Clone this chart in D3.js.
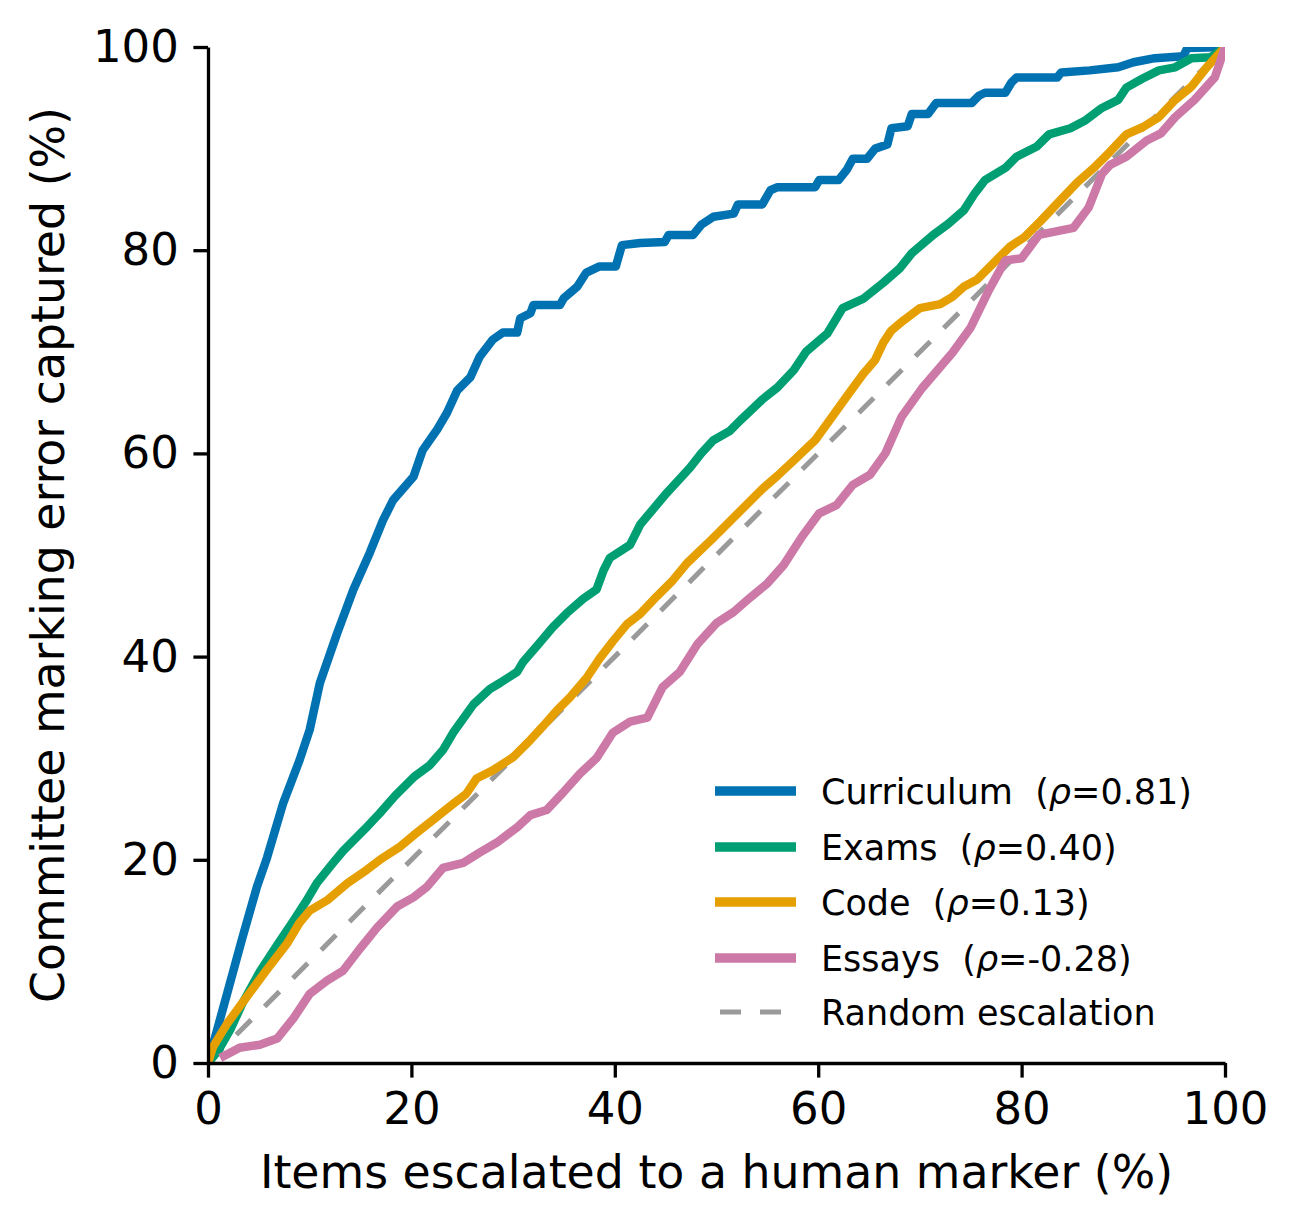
<!DOCTYPE html>
<html>
<head>
<meta charset="utf-8">
<script src="https://cdn.jsdelivr.net/npm/d3@7"></script>
<style>
  body { margin: 0; background: #fff; }
  text { font-family: "DejaVu Sans", sans-serif; }
</style>
</head>
<body>
<div class="vis-curves"></div>
<script>
// values ([% escalated, % error captured])
const curriculum = [[0,0],[1.9,6.9],[3.4,12.4],[4.8,17.3],[5.8,20.2],[7.4,25.6],[9,29.8],[10,32.8],[11,37.4],[12.7,42.3],[14.3,46.6],[15.9,50.2],[17.2,53.4],[18.2,55.4],[20.2,57.7],[21.1,60.3],[22.5,62.3],[23.5,64],[24.5,66.2],[25.8,67.5],[26.7,69.5],[28,71.2],[29,71.9],[30.4,71.9],[30.7,73.3],[31.7,73.8],[32,74.6],[34.6,74.6],[35,75.3],[36.3,76.4],[37.2,77.8],[38.5,78.4],[40.1,78.4],[40.7,80.5],[42.5,80.7],[44.9,80.8],[45.3,81.5],[47.7,81.5],[48.5,82.5],[49.7,83.3],[51.7,83.6],[52.1,84.5],[54.5,84.5],[55.3,85.9],[56,86.2],[59.7,86.2],[60.1,86.9],[62,86.9],[62.8,87.9],[63.4,89],[64.8,89],[65.6,90],[66.8,90.4],[67.2,92],[68.8,92.2],[69.2,93.4],[70.8,93.4],[71.6,94.5],[75.1,94.5],[75.8,95.2],[76.4,95.5],[78.4,95.5],[79,96.5],[79.5,97],[83.5,97],[83.9,97.5],[86.7,97.7],[89.5,98],[91,98.5],[93.1,98.9],[95.9,99.1],[96.3,99.9],[100,100]];
const exams = [[0,0],[1,1.2],[2.2,3.3],[3.4,5.9],[5.1,9],[6.8,11.6],[8.4,14],[9.7,16],[10.7,17.7],[12.3,19.7],[13.3,20.9],[15.4,23],[16.9,24.6],[18.4,26.3],[20.3,28.2],[21.8,29.3],[23.1,30.8],[24.1,32.5],[26.1,35.3],[27.7,36.8],[28.7,37.4],[30.4,38.5],[31,39.5],[32.3,41],[33.9,42.9],[35.3,44.3],[36.9,45.7],[38.2,46.6],[38.9,48.5],[39.5,49.7],[41.5,51],[42.5,53],[45.1,56.1],[47.4,58.6],[48.5,60],[49.7,61.3],[51.3,62.2],[52.5,63.4],[54.5,65.3],[56,66.5],[57.6,68.2],[58.8,70],[60.9,71.8],[62.4,74.3],[64.4,75.2],[66.4,76.8],[68,78.2],[69.2,79.7],[71.3,81.5],[72.8,82.6],[74.3,83.9],[75.4,85.6],[76.4,86.9],[78.4,88.1],[79.5,89.2],[81.5,90.2],[82.7,91.4],[84.8,92],[86.3,92.8],[87.9,94],[89.5,94.8],[90.3,96],[91.9,96.9],[93.5,97.7],[95.1,98],[96.7,98.9],[98.6,99],[100,100]];
const code = [[0,0],[0.5,1.6],[1.9,3.9],[3.8,6.5],[5.8,9.2],[7.8,11.8],[9,13.8],[10,15],[11.7,16],[13.7,17.7],[15.6,19],[16.9,20],[18.9,21.3],[20.2,22.4],[22.1,23.9],[24.1,25.5],[25.4,26.5],[26.4,28],[28,28.8],[30,30.1],[31.7,31.8],[32.9,33.1],[34.3,34.7],[35.6,36],[37.3,38],[38.5,39.8],[39.8,41.5],[41.2,43.2],[42.5,44.2],[44.1,45.9],[45.7,47.5],[47.1,49.2],[49.4,51.4],[51,53],[52.8,54.8],[54.5,56.5],[56,57.8],[57.6,59.3],[59.7,61.3],[61.3,63.5],[62.8,65.6],[64.4,67.8],[65.6,69.2],[66.4,70.9],[67.2,72.1],[68.4,73.1],[70,74.3],[72,74.7],[73.2,75.4],[74.3,76.4],[75.6,77.1],[77.2,78.7],[78.8,80.3],[80.3,81.3],[81.9,82.9],[83.5,84.6],[85.5,86.7],[87.1,88.1],[88.7,89.7],[90.3,91.4],[91.9,92.1],[93.5,93.1],[95.1,94.8],[96.7,96.1],[98.2,98],[100,100]];
const essays = [[1.2,0.5],[3.1,1.5],[5.1,1.8],[6.8,2.4],[8.4,4.4],[10,6.8],[11.7,8.1],[13.3,9.1],[14.9,11.2],[16.6,13.3],[18.6,15.4],[20.2,16.3],[21.5,17.3],[23.1,19.2],[25.1,19.7],[26.7,20.7],[28.4,21.7],[30.4,23.2],[31.7,24.4],[33.3,24.9],[34.9,26.6],[36.6,28.5],[38.2,30],[39.8,32.5],[41.5,33.6],[43.2,34],[44.7,37],[46.4,38.5],[48.1,41.2],[50,43.3],[51.7,44.4],[53.3,45.8],[55,47.2],[56.6,49],[58.4,51.8],[60.1,54.1],[61.8,54.9],[63.4,56.9],[65.1,57.9],[66.6,60],[68.2,63.6],[70.2,66.4],[73.2,69.9],[75,72.4],[76.8,76.1],[78.4,79],[80,79.2],[81.7,81.5],[85.1,82.2],[86.6,84.2],[87.9,87.5],[88.7,88.4],[90.3,89.2],[92.3,90.8],[93.7,91.5],[95.1,93.1],[97,94.8],[99,97],[100,100]];
const randomLine = [[0,0],[100,100]];

const seriesNames = ['Curriculum', 'Exams', 'Code', 'Essays'];
const rhoLabels = ['0.81', '0.40', '0.13', '-0.28'];
const tickValues = [0, 20, 40, 60, 80, 100];

const colors = ['#0072B2', '#009E73', '#E69F00', '#CC79A7'];

const W = 1298, H = 1229;
const margin = {top: 47, right: 73, bottom: 166, left: 208};
const width = W - margin.left - margin.right;
const height = H - margin.top - margin.bottom;

const svg = d3.select('.vis-curves').append('svg')
    .attr('width', W)
    .attr('height', H);

const g = svg.append('g')
    .attr('transform', 'translate(' + margin.left + ',' + margin.top + ')');

const x = d3.scaleLinear().domain([0, 100]).range([0, width]);
const y = d3.scaleLinear().domain([0, 100]).range([height, 0]);

g.append('clipPath').attr('id', 'plot-clip')
    .append('rect').attr('width', width).attr('height', height);

const line = d3.line()
    .x(d => x(d[0]))
    .y(d => y(d[1]));

const plot = g.append('g').attr('clip-path', 'url(#plot-clip)');

// diagonal first so the curves sit on top
plot.append('path')
    .datum(randomLine)
    .attr('d', line)
    .attr('fill', 'none')
    .attr('stroke', '#9a9a9a')
    .attr('stroke-width', 5)
    .attr('stroke-dasharray', '21,19');

const allSeries = [curriculum, exams, code, essays];
allSeries.forEach((s, i) => {
    plot.append('path')
        .datum(s)
        .attr('d', line)
        .attr('fill', 'none')
        .attr('stroke', colors[i])
        .attr('stroke-width', 8.5)
        .attr('stroke-linejoin', 'round');
});

// axes
const xAxis = g.append('g')
    .attr('transform', 'translate(0,' + height + ')')
    .call(d3.axisBottom(x).tickValues(tickValues).tickSize(14.6).tickSizeOuter(0).tickPadding(14.6));

const yAxis = g.append('g')
    .call(d3.axisLeft(y).tickValues(tickValues).tickSize(14.6).tickSizeOuter(0).tickPadding(14.6));

[xAxis, yAxis].forEach(ax => {
    ax.select('.domain').attr('stroke', '#000').attr('stroke-width', 3.3);
    ax.selectAll('.tick line').attr('stroke', '#000').attr('stroke-width', 3.3);
    ax.selectAll('.tick text')
        .attr('fill', '#000')
        .style('font-family', '"DejaVu Sans", sans-serif')
        .style('font-size', '45px');
});

// axis labels
svg.append('text')
    .attr('text-anchor', 'middle')
    .attr('x', margin.left + width / 2)
    .attr('y', 1188)
    .style('font-size', '45.8px')
    .text('Items escalated to a human marker (%)');

svg.append('text')
    .attr('text-anchor', 'middle')
    .attr('transform', 'translate(64,' + (margin.top + height / 2) + ') rotate(-90)')
    .style('font-size', '45.8px')
    .text('Committee marking error captured (%)');

// legend
const legendRows = [791, 847, 902, 958, 1012];
const legend = svg.append('g');

seriesNames.forEach((name, i) => {
    legend.append('line')
        .attr('x1', 715).attr('x2', 796)
        .attr('y1', legendRows[i]).attr('y2', legendRows[i])
        .attr('stroke', colors[i])
        .attr('stroke-width', 9.5);
    const t = legend.append('text')
        .attr('x', 821)
        .attr('y', legendRows[i] + 12.5)
        .style('font-size', '35px')
        .style('white-space', 'pre');
    t.append('tspan').text(name + '  (');
    t.append('tspan').style('font-style', 'italic').text('ρ');
    t.append('tspan').text('=' + rhoLabels[i] + ')');
});

legend.append('line')
    .attr('x1', 720).attr('x2', 796)
    .attr('y1', legendRows[4]).attr('y2', legendRows[4])
    .attr('stroke', '#9a9a9a')
    .attr('stroke-width', 5)
    .attr('stroke-dasharray', '21,19');
legend.append('text')
    .attr('x', 821)
    .attr('y', legendRows[4] + 12.5)
    .style('font-size', '35px')
    .text('Random escalation');
</script>
</body>
</html>
